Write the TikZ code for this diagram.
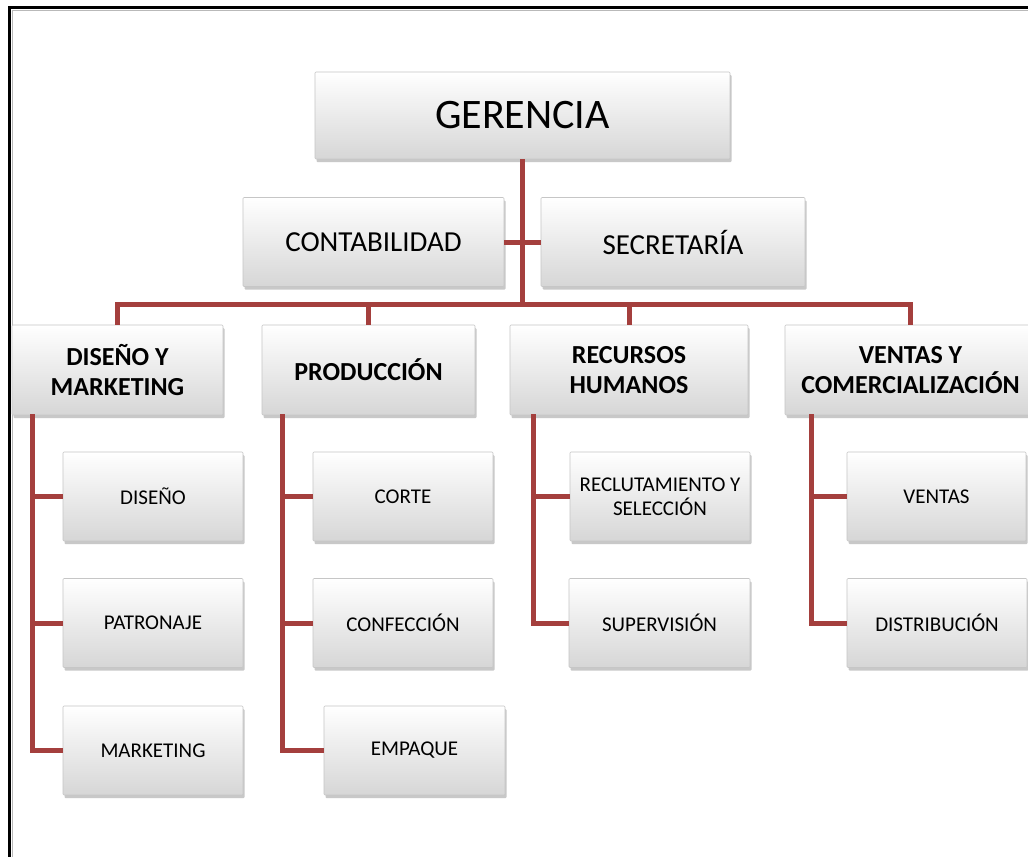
\documentclass[tikz,border=0pt]{standalone}
\usepackage{fontspec}
\setmainfont{Carlito}
\usetikzlibrary{shadows}
\definecolor{rojo}{RGB}{164,63,61}
\tikzset{
  caja/.style={draw=gray!45, line width=0.6pt, rounded corners=1pt,
    top color=white, bottom color=black!16, align=center, inner sep=0pt,
    drop shadow={shadow xshift=1.5pt, shadow yshift=-3pt, opacity=0.3, fill=black!70}},
  jefe/.style={caja, font=\fontsize{42}{48}\selectfont},
  staff/.style={caja, minimum height=89pt, font=\fontsize{29}{33}\selectfont},
  area/.style={caja, minimum height=90pt, font=\fontsize{26}{29.5}\selectfont\bfseries},
  sub/.style={caja, minimum height=89pt, font=\fontsize{21}{24}\selectfont},
  linea/.style={draw=rojo, line width=5pt},
}
\begin{document}
\begin{tikzpicture}[x=1pt,y=-1pt]
  \fill[white] (0,0) rectangle (1028,857);
  \useasboundingbox (0,0) rectangle (1028,857);
  % marco
  \draw[gray!55, line width=1pt] (1028,10) -- (12,10) -- (12,857);
  \draw[line width=3pt] (1028,7.5) -- (9.5,7.5) -- (9.5,857);
  \def \Staff{
    cont/373.5/261/CONTABILIDAD,
    secr/673/264/SECRETARÍA}
  \def \Areas{
    dm/117.5/211/DISEÑO Y\\MARKETING,
    prod/368.5/213/PRODUCCIÓN,
    rh/629/238/RECURSOS\\HUMANOS,
    vc/910.5/251/VENTAS Y\\COMERCIALIZACIÓN}
  \def \Subs{
    dis/153/496.5/180/DISEÑO,
    pat/153/623/180/PATRONAJE,
    mkt/153/750.5/180/MARKETING,
    cor/403/496.5/180/CORTE,
    conf/403/623/180/CONFECCIÓN,
    emp/414.5/750.5/181/EMPAQUE,
    rec/660/496.5/180/RECLUTAMIENTO Y\\SELECCIÓN,
    sup/659.5/623/181/SUPERVISIÓN,
    ven/936.5/496.5/179/VENTAS,
    dist/937/623/180/DISTRIBUCIÓN}
  \node[jefe, minimum width=415pt, minimum height=87pt] (ger) at (522.5,115.5) {GERENCIA};
  \foreach \id / \x / \w / \lb in \Staff{
    \node[staff, minimum width=\w pt] (\id) at (\x, 242) {\lb};
  }
  \foreach \id / \x / \w / \lb in \Areas{
    \node[area, minimum width=\w pt] (\id) at (\x, 370) {\lb};
  }
  \foreach \id / \x / \y / \w / \lb in \Subs{
    \node[sub, minimum width=\w pt] (\id) at (\x, \y) {\lb};
  }
  % lineas
  \draw[linea] (ger.south) -- ++(0,146);
  \draw[linea] (cont.east) -- (secr.west);
  \draw[linea] (dm.north) -- ++(0,-20) -| (vc.north);
  \draw[linea] (prod.north) -- ++(0,-20);
  \draw[linea] (rh.north) -- ++(0,-20);
  \coordinate (dmx) at (32,414);
  \coordinate (prodx) at (282,414);
  \coordinate (rhx) at (533,414);
  \coordinate (vcx) at (811,414);
  \foreach \a / \b in {dmx/mkt, prodx/emp, rhx/sup, vcx/dist}{
    \draw[linea] (\a) |- (\b.west);
  }
  \foreach \a / \b in {dmx/dis, dmx/pat, prodx/cor, prodx/conf, rhx/rec, vcx/ven}{
    \draw[linea] (\a |- \b.west) -- (\b.west);
  }
\end{tikzpicture}
\end{document}
